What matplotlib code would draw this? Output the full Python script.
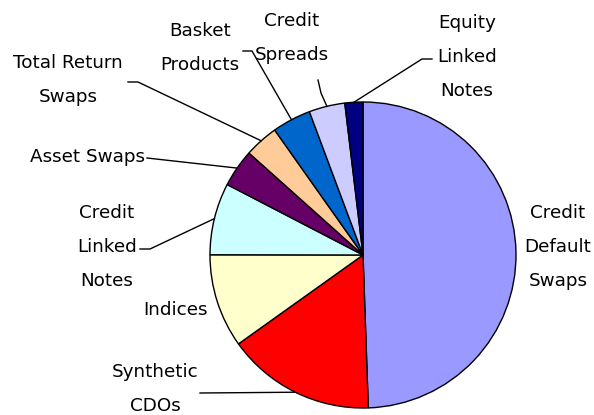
import numpy as np
import matplotlib
matplotlib.use("Agg")
import matplotlib.pyplot as plt

# Share of the credit derivatives market by product (%).
products = ["Credit\nDefault\nSwaps", "Synthetic\nCDOs", "Indices", "Credit\nLinked\nNotes",
            "Asset Swaps", "Total Return\nSwaps", "Basket\nProducts", "Credit\nSpreads",
            "Equity\nLinked\nNotes"]
shares = [49.5, 15.7, 9.9, 7.6, 4.0, 3.6, 4.1, 3.8, 1.9]
colors = ["#9999FF", "#FF0000", "#FFFFCC", "#CCFFFF", "#660066", "#FFCC99",
          "#0066CC", "#CCCCFF", "#000080"]

# label layout in pixels: text centre and the elbow points of the leader line
W, H, DPI = 594, 415, 100
CX, CY, R = 363, 255, 153
label_pos = [(558, 247), (155, 389), (176, 310), (107, 247), (88, 157),
             (68, 80), (200, 48), (292, 38), (467, 57)]
leaders = [None, [(200, 393)], None, [(140, 249), (150, 249)], [(147, 158)],
           [(128, 82), (138, 82)], [(243, 51), (252, 51)], [(318, 80), (321, 93)],
           [(432, 59), (422, 59)]]


def px(x, y):
    return (x - CX) / R, (CY - y) / R


fig = plt.figure(figsize=(W / DPI, H / DPI), dpi=DPI)
ax = fig.add_axes([0, 0, 1, 1])
wedges, _ = ax.pie(shares, colors=colors, startangle=90, counterclock=False, radius=1,
                   wedgeprops=dict(edgecolor="black", linewidth=1))
ax.set_xlim(-CX / R, (W - CX) / R)
ax.set_ylim(-(H - CY) / R, CY / R)
ax.axis("off")

for w, name, pos, lead in zip(wedges, products, label_pos, leaders):
    tx, ty = px(*pos)
    ax.text(tx, ty, name, ha="center", va="center", fontsize=13.2,
            family="DejaVu Sans", color="black", linespacing=2.12)
    if lead is None:
        continue
    mid = np.deg2rad((w.theta1 + w.theta2) / 2)
    pts = [px(*p) for p in lead] + [(np.cos(mid), np.sin(mid))]
    xs, ys = zip(*pts)
    ax.plot(xs, ys, color="black", lw=1)

fig.savefig("out.png", dpi=DPI)
